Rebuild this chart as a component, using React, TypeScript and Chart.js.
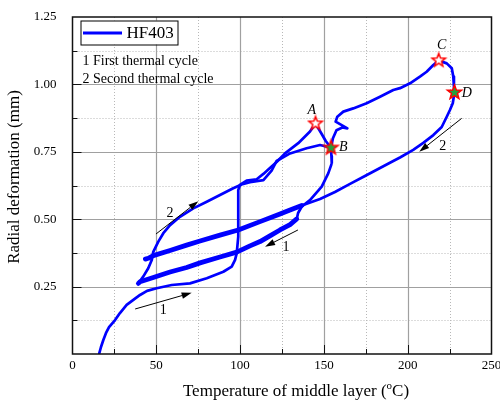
import React, { useEffect, useRef } from 'react';
import { Chart, registerables } from 'chart.js';
Chart.register(...registerables);

type P = [number, number];

// First thermal cycle: heating (through A) to B
const heating1: P[] = [
  [16.0, 0.003], [17.0, 0.026], [18.4, 0.052], [20.0, 0.078], [21.8, 0.1], [25.4, 0.126],
  [28.3, 0.152], [32.3, 0.182], [36.1, 0.2], [40.3, 0.219], [44.5, 0.234], [50.2, 0.244],
  [59.2, 0.256], [70.1, 0.262], [80.1, 0.281], [90.0, 0.305], [95.0, 0.324], [97.0, 0.349],
  [98.0, 0.374], [98.9, 0.435], [98.9, 0.497], [98.9, 0.559], [98.9, 0.608], [99.9, 0.627],
  [103.9, 0.643], [109.9, 0.648], [113.9, 0.668], [117.8, 0.69], [121.8, 0.712], [126.8, 0.744],
  [134.7, 0.782], [141.7, 0.825], [145.0, 0.855], [148.6, 0.817], [151.1, 0.79], [154.2, 0.765],
];
// First thermal cycle: cooling from B
const cooling1: P[] = [
  [154.2, 0.765], [154.5, 0.734], [154.7, 0.707], [152.6, 0.67], [148.7, 0.621], [141.7, 0.571],
  [136.8, 0.547], [134.6, 0.523], [133.8, 0.501],
];
const cooling1Dense: P[] = [
  [133.8, 0.501], [129.8, 0.48], [123.8, 0.46], [117.8, 0.438], [111.9, 0.417], [105.9, 0.401],
  [98.0, 0.378], [88.0, 0.36], [76.1, 0.338], [68.1, 0.321], [58.2, 0.304], [48.2, 0.284],
  [40.3, 0.268], [39.3, 0.262],
];
// Second thermal cycle: heating through B, C to D
const heating2: P[] = [
  [39.3, 0.262], [42.2, 0.287], [45.2, 0.318], [47.3, 0.349], [48.2, 0.379], [51.2, 0.417],
  [54.2, 0.448], [58.2, 0.478], [64.1, 0.509], [72.1, 0.54], [80.1, 0.565], [88.0, 0.59],
  [95.9, 0.615], [100.9, 0.629], [105.9, 0.637], [113.9, 0.645], [118.8, 0.68], [121.8, 0.716],
  [129.8, 0.744], [139.7, 0.763], [147.7, 0.775], [154.2, 0.765], [155.4, 0.8], [157.5, 0.83],
  [161.0, 0.84], [164.0, 0.837], [157.0, 0.862], [158.0, 0.88], [161.6, 0.899], [167.5, 0.911],
  [175.5, 0.93], [183.5, 0.954], [191.4, 0.979], [195.4, 0.986], [201.4, 1.004], [207.3, 1.029],
  [211.3, 1.047], [215.3, 1.072], [218.5, 1.089], [223.3, 1.078], [226.3, 1.06], [227.2, 1.029],
  [227.6, 0.991], [227.9, 0.97],
];
// Second thermal cycle: cooling from D
const cooling2: P[] = [
  [227.9, 0.97], [226.9, 0.93], [225.2, 0.905], [223.3, 0.88], [220.3, 0.842], [215.3, 0.812],
  [209.3, 0.783], [203.3, 0.757], [195.4, 0.729], [191.4, 0.716], [183.5, 0.69], [174.5, 0.66],
  [165.6, 0.631], [156.6, 0.601], [147.7, 0.575], [136.8, 0.551],
];
const cooling2Dense: P[] = [
  [136.8, 0.551], [129.8, 0.534], [123.8, 0.519], [111.9, 0.491], [98.9, 0.46], [88.0, 0.441],
  [76.1, 0.419], [68.1, 0.404], [58.2, 0.384], [48.2, 0.365], [45.2, 0.355], [43.5, 0.352],
];

const starsOpen: P[] = [[145.0, 0.855], [218.5, 1.089]];
const starsFilled: P[] = [[154.2, 0.765], [227.9, 0.97]];
const pointNames = ['A', 'B', 'C', 'D'];
const pointLabelPos: P[] = [[142.7, 0.905], [161.6, 0.767], [220.3, 1.146], [235.2, 0.967]];

const arrowFrom: P[] = [[37.4, 0.167], [134.5, 0.46], [49.8, 0.445], [232.2, 0.874]];
const arrowTo: P[] = [[71.1, 0.227], [114.9, 0.398], [75.1, 0.567], [206.9, 0.75]];
const arrowLabels = ['1', '1', '2', '2'];
const arrowLabelPos: P[] = [[54.2, 0.163], [127.4, 0.396], [58.2, 0.522], [220.9, 0.769]];

const xMajor = [50, 100, 150, 200];
const xMinor = [25, 75, 125, 175, 225];
const yMajor = [0.25, 0.5, 0.75, 1.0];
const yMinor = [0.125, 0.375, 0.625, 0.875, 1.125];

const seriesName = 'HF403';
const notes = ['1 First thermal cycle', '2 Second thermal cycle'];
const xTitleParts = ['Temperature of middle layer (', 'o', 'C)'];
const yTitle = 'Radial deformation (mm)';

const SERIF = '"Liberation Serif", "Times New Roman", serif';
const BLUE = '#0000ff';

function makeStar(fill: string, stroke: string, r: number) {
  const size = Math.ceil(r * 2 + 4);
  const c = document.createElement('canvas');
  c.width = size;
  c.height = size;
  const g = c.getContext('2d')!;
  g.beginPath();
  for (let i = 0; i < 10; i++) {
    const rad = i % 2 === 0 ? r : r * 0.42;
    const a = -Math.PI / 2 + (i * Math.PI) / 5;
    g.lineTo(size / 2 + rad * Math.cos(a), size / 2 + rad * Math.sin(a));
  }
  g.closePath();
  g.fillStyle = fill;
  g.fill();
  g.lineWidth = 1.5;
  g.strokeStyle = stroke;
  g.stroke();
  return c;
}

const toXY = (arr: P[]) => arr.map(([x, y]) => ({ x, y }));

const decor = {
  id: 'decor',
  beforeDatasetsDraw(chart: any) {
    const { ctx, chartArea: a, scales } = chart;
    const x = scales.x, y = scales.y;
    ctx.save();
    ctx.lineWidth = 1;
    ctx.setLineDash([1, 2]);
    ctx.strokeStyle = '#b8b8b8';
    for (const v of xMinor) {
      const px = Math.round(x.getPixelForValue(v)) + 0.5;
      ctx.beginPath(); ctx.moveTo(px, a.top); ctx.lineTo(px, a.bottom); ctx.stroke();
    }
    for (const v of yMinor) {
      const py = Math.round(y.getPixelForValue(v)) + 0.5;
      ctx.beginPath(); ctx.moveTo(a.left, py); ctx.lineTo(a.right, py); ctx.stroke();
    }
    ctx.setLineDash([]);
    ctx.strokeStyle = '#a0a0a0';
    ctx.lineWidth = 1.2;
    for (const v of xMajor) {
      const px = Math.round(x.getPixelForValue(v)) + 0.5;
      ctx.beginPath(); ctx.moveTo(px, a.top); ctx.lineTo(px, a.bottom); ctx.stroke();
    }
    for (const v of yMajor) {
      const py = Math.round(y.getPixelForValue(v)) + 0.5;
      ctx.beginPath(); ctx.moveTo(a.left, py); ctx.lineTo(a.right, py); ctx.stroke();
    }
    ctx.restore();
  },
  afterDatasetsDraw(chart: any) {
    const { ctx, chartArea: a, scales } = chart;
    const x = scales.x, y = scales.y;
    ctx.save();
    // frame
    ctx.strokeStyle = '#111';
    ctx.lineWidth = 1.5;
    ctx.strokeRect(a.left, a.top, a.right - a.left, a.bottom - a.top);
    // ticks (inward)
    ctx.lineWidth = 1;
    ctx.strokeStyle = '#111';
    const tickX = (v: number, len: number) => {
      const px = Math.round(x.getPixelForValue(v)) + 0.5;
      ctx.beginPath(); ctx.moveTo(px, a.bottom); ctx.lineTo(px, a.bottom - len); ctx.stroke();
    };
    const tickY = (v: number, len: number) => {
      const py = Math.round(y.getPixelForValue(v)) + 0.5;
      ctx.beginPath(); ctx.moveTo(a.left, py); ctx.lineTo(a.left + len, py); ctx.stroke();
    };
    xMajor.forEach((v) => tickX(v, 9));
    xMinor.forEach((v) => tickX(v, 5));
    yMajor.forEach((v) => tickY(v, 9));
    yMinor.forEach((v) => tickY(v, 5));

    // arrows
    ctx.fillStyle = '#000';
    ctx.strokeStyle = '#000';
    ctx.lineWidth = 1;
    arrowFrom.forEach((f, i) => {
      const t = arrowTo[i];
      const x1 = x.getPixelForValue(f[0]), y1 = y.getPixelForValue(f[1]);
      const x2 = x.getPixelForValue(t[0]), y2 = y.getPixelForValue(t[1]);
      const ang = Math.atan2(y2 - y1, x2 - x1);
      const hl = 10, hw = 3.2;
      const bx = x2 - hl * Math.cos(ang), by = y2 - hl * Math.sin(ang);
      ctx.beginPath(); ctx.moveTo(x1, y1); ctx.lineTo(bx, by); ctx.stroke();
      ctx.beginPath();
      ctx.moveTo(x2, y2);
      ctx.lineTo(bx + hw * Math.sin(ang), by - hw * Math.cos(ang));
      ctx.lineTo(bx - hw * Math.sin(ang), by + hw * Math.cos(ang));
      ctx.closePath(); ctx.fill();
    });
    ctx.font = `14px ${SERIF}`;
    ctx.textAlign = 'center';
    ctx.textBaseline = 'middle';
    arrowLabels.forEach((t, i) => {
      ctx.fillText(t, x.getPixelForValue(arrowLabelPos[i][0]), y.getPixelForValue(arrowLabelPos[i][1]));
    });
    // point labels
    ctx.font = `italic 14px ${SERIF}`;
    pointNames.forEach((t, i) => {
      ctx.fillText(t, x.getPixelForValue(pointLabelPos[i][0]), y.getPixelForValue(pointLabelPos[i][1]));
    });

    // legend box
    const lx = a.left + 8, ly = a.top + 3.5;
    ctx.fillStyle = '#fff';
    ctx.fillRect(lx, ly, 98, 24);
    ctx.strokeStyle = '#000';
    ctx.lineWidth = 1;
    ctx.strokeRect(lx + 0.5, ly + 0.5, 97, 24);
    ctx.strokeStyle = BLUE;
    ctx.lineWidth = 3;
    ctx.beginPath(); ctx.moveTo(lx + 2.5, ly + 12.5); ctx.lineTo(lx + 41.5, ly + 12.5); ctx.stroke();
    ctx.fillStyle = '#000';
    ctx.font = `17px ${SERIF}`;
    ctx.textAlign = 'left';
    ctx.fillText(seriesName, lx + 46, ly + 13);
    // notes
    ctx.font = `14px ${SERIF}`;
    ctx.fillText(notes[0], a.left + 10, a.top + 44.5);
    ctx.fillText(notes[1], a.left + 10, a.top + 62);

    // axis titles
    ctx.font = `17px ${SERIF}`;
    ctx.textBaseline = 'alphabetic';
    const w1 = ctx.measureText(xTitleParts[0]).width;
    const w3 = ctx.measureText(xTitleParts[2]).width;
    ctx.font = `11px ${SERIF}`;
    const w2 = ctx.measureText(xTitleParts[1]).width;
    const total = w1 + w2 + w3;
    let sx = 296 - total / 2;
    const base = 396;
    ctx.font = `17px ${SERIF}`;
    ctx.fillText(xTitleParts[0], sx, base);
    sx += w1;
    ctx.font = `11px ${SERIF}`;
    ctx.fillText(xTitleParts[1], sx, base - 7);
    sx += w2;
    ctx.font = `17px ${SERIF}`;
    ctx.fillText(xTitleParts[2], sx, base);

    ctx.translate(15, 177);
    ctx.rotate(-Math.PI / 2);
    ctx.textAlign = 'center';
    ctx.textBaseline = 'middle';
    ctx.fillText(yTitle, 0, 0);
    ctx.restore();
  },
};

export default function App() {
  const ref = useRef<HTMLCanvasElement | null>(null);
  useEffect(() => {
    document.body.style.margin = '0';
    const canvas = ref.current!;
    const openStar = makeStar('#ffffff', '#ff0000', 7);
    const filledStar = makeStar('#22a03c', '#ff0000', 7.5);
    const lineDs = (data: P[], w: number) => ({
      data: toXY(data),
      showLine: true,
      borderColor: BLUE,
      backgroundColor: BLUE,
      borderWidth: w,
      pointRadius: 0,
      tension: 0,
      order: 2,
      borderJoinStyle: 'round' as const,
      borderCapStyle: 'round' as const,
    });
    const chart = new Chart(canvas, {
      type: 'scatter',
      data: {
        datasets: [
          { data: toXY(starsOpen), pointStyle: openStar as any, pointRadius: 6, order: 0 } as any,
          { data: toXY(starsFilled), pointStyle: filledStar as any, pointRadius: 6, order: 0 } as any,
          lineDs(heating1, 2.7),
          lineDs(cooling1, 2.7),
          lineDs(cooling1Dense, 4.8),
          lineDs(heating2, 2.7),
          lineDs(cooling2, 2.7),
          lineDs(cooling2Dense, 4.8),
        ],
      },
      options: {
        responsive: false,
        animation: false,
        devicePixelRatio: 1,
        layout: { padding: { top: 17, right: 8.5, bottom: 0, left: 0 } },
        plugins: { legend: { display: false }, tooltip: { enabled: false } },
        scales: {
          x: {
            type: 'linear',
            min: 0,
            max: 250,
            grid: { display: false, drawTicks: false },
            border: { display: false },
            ticks: { stepSize: 50, padding: 4, color: '#000', font: { family: SERIF, size: 13 } },
            afterFit: (s: any) => { s.height = 47; s.paddingLeft = 0; s.paddingRight = 0; },
          },
          y: {
            type: 'linear',
            min: 0,
            max: 1.25,
            grid: { display: false, drawTicks: false },
            border: { display: false },
            ticks: {
              stepSize: 0.25,
              padding: 16,
              color: '#000',
              font: { family: SERIF, size: 13 },
              callback: (v: any) => (Number(v) === 0 ? '' : Number(v).toFixed(2)),
            },
            afterFit: (s: any) => { s.width = 72.5; s.paddingTop = 0; s.paddingBottom = 0; },
          },
        },
      },
      plugins: [decor],
    });
    return () => chart.destroy();
  }, []);
  return <canvas ref={ref} width={500} height={401} style={{ display: 'block' }} />;
}
